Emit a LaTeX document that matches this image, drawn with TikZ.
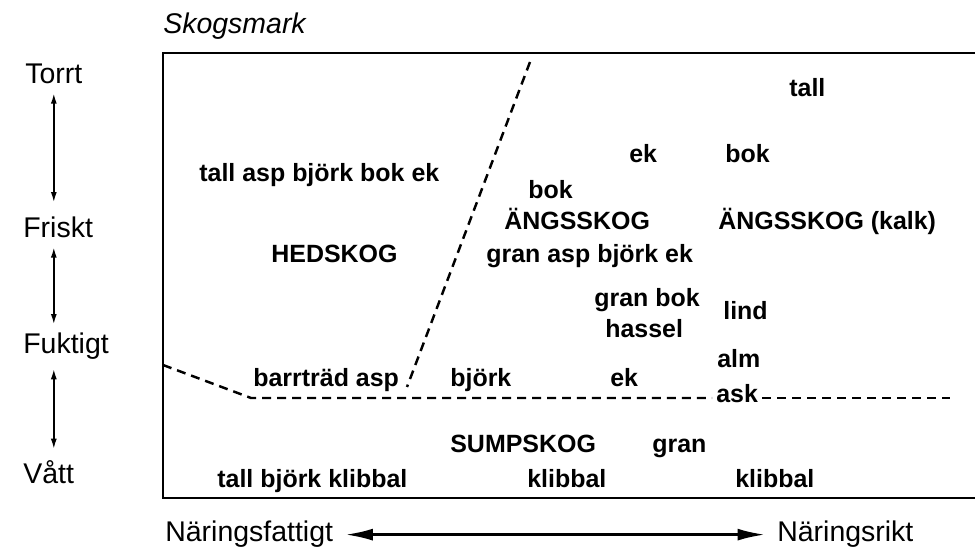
\documentclass[tikz,border=0pt]{standalone}
\usepackage{fontspec}
\setmainfont{Liberation Sans}
\usetikzlibrary{arrows.meta}
\begin{document}
\begin{tikzpicture}[
    art/.style={font=\fontsize{14.2}{17}\selectfont\bfseries, inner sep=0pt, anchor=base west},
    skala/.style={font=\fontsize{16.2}{19}\selectfont, inner sep=0pt, anchor=base west},
    ram/.style={line width=1.1pt},
    grans/.style={line width=1.4pt, dash pattern=on 0.18cm off 0.12cm},
    pil/.style={{Latex[length=2mm,width=1.2mm]}-{Latex[length=2mm,width=1.2mm]}, line width=0.8pt, shorten <=0.18cm, shorten >=0.18cm},
    tjockpil/.style={{Latex[length=5.5mm,width=2.4mm]}-{Latex[length=5.5mm,width=2.4mm]}, line width=1.5pt, shorten <=0.24cm, shorten >=0.24cm},
  ]
  \useasboundingbox (0,0) rectangle (19.5,10.94);
  \draw[ram] (19.5,9.88) -- (3.26,9.88) -- (3.26,0.98) -- (19.5,0.98);
  \node[skala, font=\fontsize{16.2}{19}\selectfont\itshape] (mark) at (3.26,10.26) {Skogsmark};

  \node[skala] (torrt) at (0.50,9.26) {Torrt};
  \node[skala] (friskt) at (0.46,6.18) {Friskt};
  \node[skala] (fuktigt) at (0.46,3.86) {Fuktigt};
  \node[skala] (vatt) at (0.46,1.26) {Vått};
  \draw[pil, shorten >=0.3cm] (torrt.south) -- (torrt.south |- friskt.north);
  \draw[pil] (torrt.south |- friskt.south) -- (torrt.south |- fuktigt.north);
  \draw[pil, shorten >=0.24cm] (torrt.south |- fuktigt.south) -- (torrt.south |- vatt.north);

  \node[art] (tall1) at (15.78,9.00) {tall};
  \node[art] (ek1) at (12.58,7.68) {ek};
  \node[art] (bok1) at (14.50,7.68) {bok};
  \node[art] (hedarter) at (3.98,7.30) {tall asp björk bok ek};
  \node[art] (bok2) at (10.56,6.96) {bok};
  \node[art] (angs) at (10.08,6.34) {ÄNGSSKOG};
  \node[art] (kalk) at (14.36,6.34) {ÄNGSSKOG (kalk)};
  \node[art] (hed) at (5.42,5.68) {HEDSKOG};
  \node[art] (angsarter) at (9.72,5.68) {gran asp björk ek};
  \node[art] (granbok) at (11.88,4.80) {gran bok};
  \node[art] (hassel) at (12.10,4.18) {hassel};
  \node[art] (lind) at (14.46,4.54) {lind};
  \node[art] (alm) at (14.34,3.58) {alm};
  \node[art] (barr) at (5.06,3.20) {barrträd asp};
  \node[art] (bjork) at (9.00,3.20) {björk};
  \node[art] (ek2) at (12.20,3.20) {ek};
  \node[art] (ask) at (14.32,2.88) {ask};
  \node[art] (sump) at (9.00,1.88) {SUMPSKOG};
  \node[art] (gran) at (13.04,1.88) {gran};
  \node[art] (sumparter) at (4.34,1.18) {tall björk klibbal};
  \node[art] (klibbal1) at (10.54,1.18) {klibbal};
  \node[art] (klibbal2) at (14.70,1.18) {klibbal};

  \coordinate (knick) at (5.02,2.98);
  \coordinate (slut) at (19.00,2.98);
  \draw[grans] (10.60,9.70) -- (8.14,3.20);
  \draw[grans, shorten >=0.08cm] (3.26,3.64) -- (knick) -- (knick -| ask.west);
  \draw[grans, shorten <=0.08cm] (ask.east |- slut) -- (slut);

  \node[skala] (fattig) at (3.30,0.10) {Näringsfattigt};
  \node[skala] (rik) at (15.54,0.10) {Näringsrikt};
  \draw[tjockpil] (fattig) -- (rik);
\end{tikzpicture}
\end{document}
